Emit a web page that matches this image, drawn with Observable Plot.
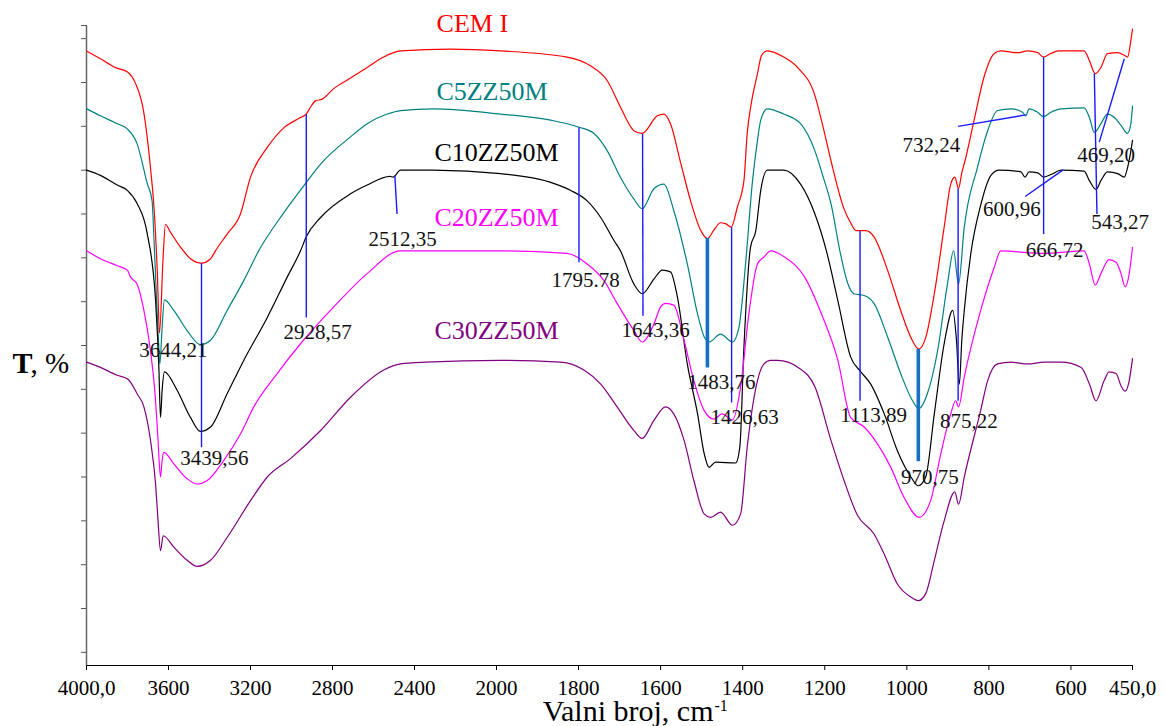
<!DOCTYPE html>
<html><head><meta charset="utf-8">
<script src="https://cdn.jsdelivr.net/npm/d3@7"></script>
<script src="https://cdn.jsdelivr.net/npm/@observablehq/plot@0.6"></script>
<style>body{margin:0;background:#fff}</style>
</head><body><div id="chart"></div>
<script>
// ---- data (wavenumber cm-1, transmittance T) ----
const seriesNames = ["CEM I", "C5ZZ50M", "C10ZZ50M", "C20ZZ50M", "C30ZZ50M"];
const seriesColors = ["#ff0000", "#008080", "#000000", "#ff00ff", "#800080"];

const cemI = [[4000,73.6],[3932,72.7],[3858,71.7],[3800,71.2],[3761,69.9],[3722,66.8],[3688,60.3],[3668,54.8],[3654,48.0],[3644,41.4],[3627,49.7],[3615,53.8],[3590,52.9],[3541,51.2],[3493,49.9],[3439,49.4],[3395,49.9],[3371,50.8],[3314,52.7],[3249,55.0],[3200,59.2],[3118,62.6],[3039,64.8],[2956,66.0],[2928,66.4],[2907,67.2],[2883,67.9],[2850,68.1],[2794,69.3],[2712,70.5],[2631,71.7],[2551,72.9],[2468,73.6],[2224,73.8],[1990,73.6],[1828,72.9],[1771,71.9],[1730,70.2],[1698,67.2],[1665,64.5],[1645,64.2],[1608,66.2],[1592,66.4],[1576,65.3],[1551,60.8],[1527,56.5],[1502,53.1],[1486,52.2],[1471,53.1],[1454,54.0],[1442,53.9],[1428,53.5],[1413,55.8],[1397,58.8],[1389,64.2],[1378,67.9],[1364,71.0],[1354,73.1],[1340,73.6],[1300,72.9],[1266,71.7],[1224,68.5],[1205,65.1],[1185,61.1],[1154,55.7],[1137,54.0],[1124,53.1],[1100,53.1],[1080,52.4],[1047,48.6],[1015,44.0],[990,40.9],[971,39.6],[954,40.9],[933,45.9],[909,53.5],[893,58.4],[883,59.2],[874,57.9],[866,59.7],[858,61.1],[836,65.7],[812,70.6],[787,73.3],[771,73.6],[730,73.4],[706,73.6],[681,73.4],[667,72.9],[649,73.3],[632,73.6],[568,73.6],[555,72.5],[541,71.0],[527,71.7],[511,73.3],[486,73.4],[470,73.1],[462,72.9],[454,74.8],[450,76.1]];

const c5 = [[4000,67.0],[3932,66.2],[3850,65.3],[3801,64.7],[3753,63.0],[3704,58.5],[3680,56.5],[3672,52.8],[3658,45.1],[3649,40.6],[3642,37.9],[3632,41.7],[3620,45.2],[3574,44.0],[3509,41.7],[3444,40.1],[3395,40.6],[3314,44.0],[3233,47.4],[3160,50.8],[3039,55.1],[2928,58.6],[2858,60.7],[2712,63.8],[2631,65.3],[2533,66.4],[2468,66.8],[2307,67.0],[1990,66.4],[1868,65.7],[1799,64.9],[1763,64.2],[1730,62.2],[1698,59.2],[1665,56.7],[1645,55.6],[1616,57.9],[1592,58.4],[1568,55.4],[1535,49.3],[1510,43.6],[1494,41.0],[1482,40.4],[1454,41.3],[1425,40.4],[1409,42.1],[1393,49.3],[1376,58.8],[1364,63.4],[1356,65.7],[1340,67.0],[1300,66.4],[1259,65.3],[1224,62.2],[1205,59.4],[1185,56.2],[1161,50.3],[1144,47.1],[1129,45.9],[1104,45.7],[1080,44.8],[1047,41.0],[1015,36.8],[986,33.7],[971,32.8],[950,34.5],[925,39.4],[901,47.0],[886,50.8],[874,47.0],[860,53.5],[828,60.3],[803,64.5],[779,66.8],[746,67.0],[718,66.6],[710,66.2],[702,67.0],[681,66.6],[667,66.1],[649,66.6],[624,67.0],[568,67.1],[555,66.0],[543,64.3],[527,65.3],[511,66.4],[494,66.0],[478,65.1],[462,64.2],[454,65.3],[450,67.3]];

const c10 = [[4000,60.0],[3932,59.4],[3850,58.3],[3801,57.7],[3753,56.2],[3704,52.8],[3663,45.1],[3647,37.5],[3639,31.8],[3631,34.9],[3620,37.0],[3558,34.9],[3493,31.8],[3444,30.2],[3395,30.7],[3314,34.5],[3233,38.3],[3118,43.2],[3021,47.8],[2956,50.8],[2928,52.4],[2858,54.6],[2712,57.3],[2631,58.3],[2520,59.3],[2505,59.2],[2468,60.0],[2307,60.0],[1990,59.6],[1868,58.6],[1820,57.7],[1779,56.5],[1746,54.6],[1714,52.0],[1698,50.8],[1665,47.0],[1645,45.9],[1616,47.6],[1596,48.6],[1576,48.4],[1559,45.5],[1535,37.9],[1510,32.2],[1494,27.7],[1482,26.1],[1466,26.7],[1417,26.6],[1407,28.4],[1397,39.8],[1381,51.2],[1368,53.1],[1356,57.7],[1340,60.0],[1300,60.0],[1259,58.4],[1224,55.0],[1196,50.8],[1168,45.1],[1137,38.7],[1112,37.0],[1088,35.6],[1055,32.2],[1023,28.0],[990,25.0],[972,24.0],[954,25.0],[933,32.2],[909,40.2],[888,44.0],[879,40.6],[872,35.6],[866,40.6],[860,44.0],[844,50.5],[820,56.0],[795,59.4],[775,60.0],[722,59.8],[712,59.2],[702,59.8],[681,59.7],[667,59.2],[649,59.5],[624,60.0],[568,59.9],[555,58.8],[539,57.8],[527,58.8],[511,59.8],[486,59.6],[470,59.2],[462,60.3],[454,62.2],[450,63.4]];

const c20 = [[4000,50.8],[3932,49.9],[3850,49.1],[3801,48.6],[3785,47.8],[3753,47.0],[3720,44.0],[3688,39.4],[3663,33.7],[3651,29.2],[3639,25.0],[3631,26.9],[3623,27.8],[3574,26.5],[3509,24.8],[3460,24.2],[3411,24.6],[3330,26.9],[3249,29.9],[3184,33.0],[3070,36.8],[2956,40.2],[2794,44.4],[2631,48.2],[2468,50.8],[1990,50.8],[1828,50.5],[1779,49.3],[1738,47.4],[1706,44.8],[1665,41.7],[1645,40.4],[1616,42.5],[1600,44.4],[1588,44.8],[1568,44.6],[1543,40.6],[1519,36.0],[1494,32.6],[1470,31.6],[1450,32.2],[1425,31.5],[1405,35.3],[1385,43.6],[1364,49.3],[1348,50.1],[1332,50.8],[1298,50.1],[1249,47.8],[1208,43.6],[1168,38.3],[1137,31.8],[1104,30.7],[1072,28.8],[1039,26.1],[1007,22.7],[970,20.4],[942,22.3],[917,27.7],[893,32.2],[881,33.7],[874,33.0],[860,36.4],[820,44.0],[787,48.9],[771,50.8],[706,50.6],[665,50.5],[568,50.8],[555,49.3],[541,46.9],[527,48.2],[507,49.8],[490,49.5],[478,48.2],[468,46.7],[458,48.2],[450,51.2]];

const c30 = [[4000,38.1],[3932,37.5],[3850,36.6],[3801,36.2],[3785,35.8],[3753,34.5],[3720,33.0],[3688,29.2],[3663,24.2],[3651,20.0],[3639,16.6],[3626,18.3],[3574,17.0],[3509,15.5],[3460,14.8],[3395,15.5],[3314,18.1],[3200,22.3],[3118,25.0],[3005,27.1],[2858,30.3],[2712,34.1],[2550,37.2],[2468,37.9],[2346,38.1],[1990,38.3],[1844,38.1],[1787,37.2],[1746,35.6],[1706,33.0],[1665,30.3],[1645,29.4],[1616,31.5],[1588,33.0],[1568,32.2],[1543,29.2],[1519,24.6],[1494,20.8],[1478,20.4],[1454,21.0],[1425,19.5],[1405,20.8],[1389,28.4],[1364,36.0],[1348,37.9],[1332,38.3],[1314,38.3],[1265,37.5],[1224,35.3],[1185,29.2],[1153,24.6],[1120,20.6],[1080,18.5],[1055,16.2],[1023,12.8],[990,11.3],[972,10.9],[954,11.7],[933,15.5],[909,20.0],[883,23.3],[874,21.9],[860,25.0],[820,32.6],[803,36.0],[779,37.9],[746,38.1],[706,37.9],[665,38.1],[624,38.1],[575,37.5],[555,35.6],[539,33.7],[519,36.0],[507,37.0],[490,36.8],[478,35.4],[468,34.8],[458,36.0],[450,38.5]];

const seriesData = [cemI, c5, c10, c20, c30];

// series name labels (anchor wavenumber, T)
const nameWn = [2118, 2022, 2000, 2000, 2000];
const nameT = [76.7, 68.9, 62.05, 54.6, 41.7];

// x-axis ticks and tick labels
const xTicks = [4000, 3600, 3200, 2800, 2400, 2000, 1800, 1600, 1400, 1200, 1000, 800, 600, 450];
const xTickLabels = ["4000,0", "3600", "3200", "2800", "2400", "2000", "1800", "1600", "1400", "1200", "1000", "800", "600", "450,0"];
const yTicks = [5, 10, 15, 20, 25, 30, 35, 40, 45, 50, 55, 60, 65, 70, 75, 76.5];

// peak marker segments [wn1, T1, wn2, T2]
const thinMarkers = [
  [3439, 49.4, 3439, 28.4],
  [2928, 66.4, 2928, 43.2],
  [2496, 59.4, 2485, 55.0],
  [1799, 64.9, 1799, 49.5],
  [1644, 64.15, 1643, 43.4],
  [1427, 53.5, 1427, 33.5],
  [1114, 53.1, 1114, 33.7],
  [875, 57.9, 875, 33.7],
  [710, 66.3, 875, 65.0],
  [666.6, 72.9, 666.6, 52.7],
  [620, 60.0, 711.5, 57.0],
  [543, 71.0, 536.6, 55.0],
  [470, 72.7, 531, 63.2]
];
const thickMarkers = [
  [1486, 52.3, 1486, 37.5],
  [972, 39.6, 972, 26.8]
];

// peak labels
const peakText = ["3644,21", "3439,56", "2928,57", "2512,35", "1795.78", "1643,36", "1483,76", "1426,63", "1113,89", "970,75", "875,22", "732,24", "666,72", "600,96", "543,27", "469,20"];
const peakWn = [3576, 3376, 2873, 2458, 1783, 1612, 1452, 1395, 1081, 944, 849, 940, 640, 744, 480, 514];
const peakT = [39.4, 27.1, 41.5, 52.1, 47.4, 41.7, 35.8, 31.8, 32.0, 25.0, 31.4, 62.8, 50.9, 55.5, 54.1, 61.7];

// ---- build tables ----
const rows = seriesNames.flatMap((s, i) => seriesData[i].map(([wn, T]) => ({series: s, wn, T})));
const names = seriesNames.map((s, i) => ({series: s, wn: nameWn[i], T: nameT[i]}));
const toSeg = m => ({x1: m[0], y1: m[1], x2: m[2], y2: m[3]});
const thin = thinMarkers.map(toSeg);
const thick = thickMarkers.map(toSeg);
const peaks = peakText.map((t, i) => ({t, wn: peakWn[i], T: peakT[i]}));
const ticksTable = xTicks.map((v, i) => ({v, label: xTickLabels[i]}));

const serif = "'Liberation Serif', 'Times New Roman', serif";

const chart = Plot.plot({
  width: 1164,
  height: 726,
  marginLeft: 86,
  marginRight: 32,
  marginTop: 25,
  marginBottom: 61,
  style: {fontFamily: serif, background: "#fff", color: "#000"},
  x: {type: "linear", domain: [4000, 2000, 450], range: [86, 496, 1132]},
  y: {domain: [3.5, 76.5]},
  color: {domain: seriesNames, range: seriesColors},
  marks: [
    Plot.ruleY([3.5], {stroke: "#000", strokeWidth: 1.2}),
    Plot.ruleX([4000], {stroke: "#666", strokeWidth: 1.5}),
    Plot.axisX({ticks: xTicks, tickFormat: () => "", tickSize: 5, label: null}),
    Plot.text(ticksTable, {x: "v", text: "label", frameAnchor: "bottom", dy: 23, fontSize: 21, fill: "#000", textAnchor: "middle", lineAnchor: "middle"}),
    Plot.axisY({ticks: yTicks, tickFormat: () => "", tickSize: 5, label: null, stroke: "#555"}),
    Plot.line(rows, {x: "wn", y: "T", z: "series", stroke: "series", strokeWidth: 1.2, curve: "monotone-x"}),
    Plot.link(thin, {x1: "x1", y1: "y1", x2: "x2", y2: "y2", stroke: "#1a1aff", strokeWidth: 1.4}),
    Plot.link(thick, {x1: "x1", y1: "y1", x2: "x2", y2: "y2", stroke: "#1670c4", strokeWidth: 3.6}),
    Plot.text(peaks, {x: "wn", y: "T", text: "t", fontSize: 21, fill: "#111", textAnchor: "middle", lineAnchor: "middle"}),
    Plot.text(names, {x: "wn", y: "T", text: "series", fill: "series", fontSize: 26, textAnchor: "middle", lineAnchor: "middle"}),
    Plot.text(["T"], {text: d => d, frameAnchor: "left", dx: -64, dy: 18, fontSize: 30, fontWeight: "bold", textAnchor: "middle", lineAnchor: "middle"}),
    Plot.text([", %"], {text: d => d, frameAnchor: "left", dx: -56, dy: 18, fontSize: 29, textAnchor: "start", lineAnchor: "middle"}),
    Plot.text(["Valni broj, cm"], {text: d => d, frameAnchor: "bottom", dx: 104, dy: 46, fontSize: 30, textAnchor: "end", lineAnchor: "middle"}),
    Plot.text(["-1"], {text: d => d, frameAnchor: "bottom", dx: 105, dy: 40, fontSize: 16, textAnchor: "start", lineAnchor: "middle"})
  ]
});
document.getElementById("chart").appendChild(chart);
</script>
</body></html>
